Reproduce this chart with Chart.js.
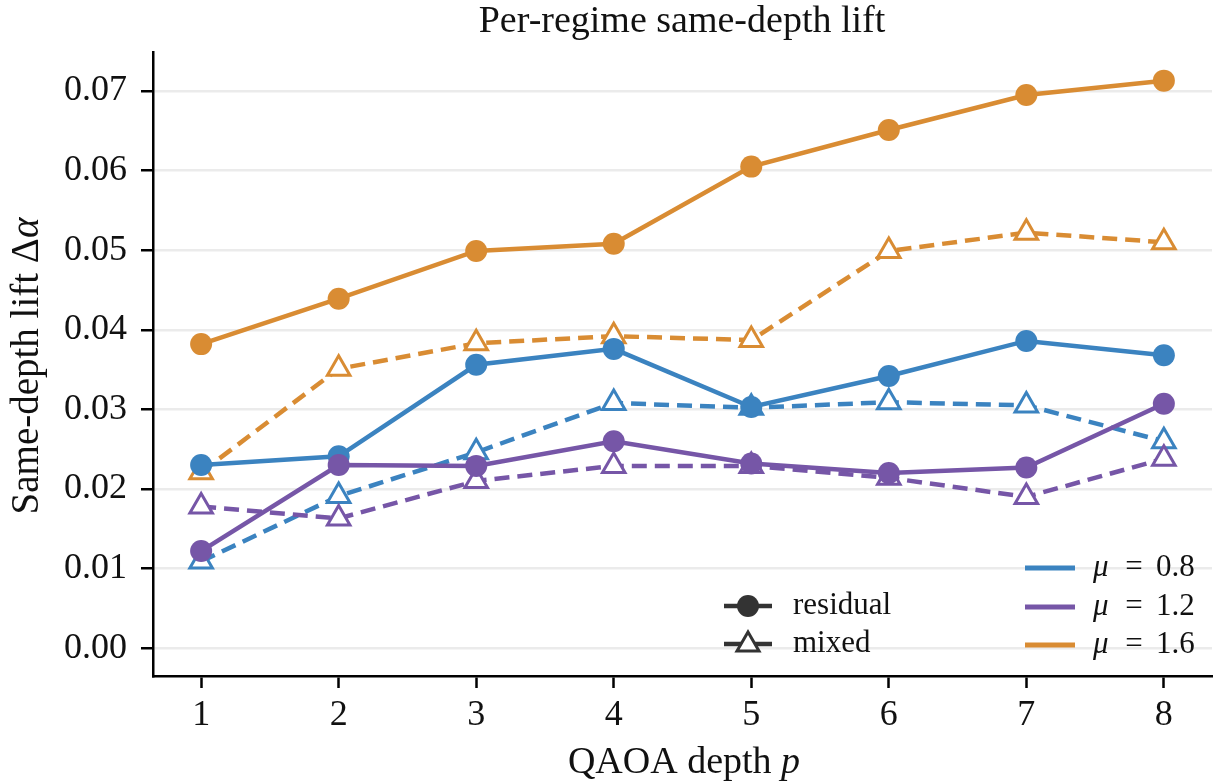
<!DOCTYPE html>
<html>
<head>
<meta charset="utf-8">
<script src="https://cdn.jsdelivr.net/npm/chart.js@4.4.0/dist/chart.umd.min.js"></script>
<style>
  html, body { margin: 0; padding: 0; background: #fff; overflow: hidden; }
  #wrap { width: 1219px; height: 782px; position: relative; overflow: hidden; }
  #chart { display: block; }
</style>
</head>
<body>
<div id="wrap"><canvas id="chart" width="1219" height="782"></canvas></div>
<script>
// Data
const depths = [1, 2, 3, 4, 5, 6, 7, 8];
const yTicks = [0, 0.01, 0.02, 0.03, 0.04, 0.05, 0.06, 0.07];

const residual08 = [0.0230, 0.0241, 0.0356, 0.0376, 0.0303, 0.0342, 0.0386, 0.0368];
const mixed08    = [0.0109, 0.0191, 0.0246, 0.0308, 0.0302, 0.0309, 0.0305, 0.0260];
const residual12 = [0.0122, 0.0230, 0.0229, 0.0260, 0.0232, 0.0220, 0.0227, 0.0307];
const mixed12    = [0.0178, 0.0163, 0.0210, 0.0229, 0.0229, 0.0214, 0.0190, 0.0238];
const residual16 = [0.0382, 0.0439, 0.0499, 0.0508, 0.0605, 0.0651, 0.0695, 0.0713];
const mixed16    = [0.0221, 0.0351, 0.0383, 0.0392, 0.0387, 0.0499, 0.0522, 0.0510];

const regimes = ['0.8', '1.2', '1.6'];
const colors = ['#3b83c0', '#7656a7', '#d98c33'];

const FONT = '"Liberation Serif", "DejaVu Serif", serif';

function pts(arr) {
    return arr.map((v, i) => ({ x: depths[i], y: v }));
}

function residualSet(vals, color) {
    return {
        data: pts(vals),
        borderColor: color,
        backgroundColor: color,
        borderWidth: 4.5,
        pointStyle: 'circle',
        pointRadius: 11,
        pointBorderWidth: 0,
        pointBackgroundColor: color,
        tension: 0,
    };
}

function mixedSet(vals, color) {
    return {
        data: pts(vals),
        borderColor: color,
        backgroundColor: '#fff',
        borderWidth: 4.5,
        borderDash: [15, 8],
        pointStyle: 'triangle',
        pointRadius: 13,
        pointBorderWidth: 3,
        pointBorderColor: color,
        pointBackgroundColor: '#fff',
        tension: 0,
    };
}

// first dataset is drawn on top: residual lines above mixed, later regimes above earlier
const datasets = [
    residualSet(residual16, colors[2]),
    residualSet(residual12, colors[1]),
    residualSet(residual08, colors[0]),
    mixedSet(mixed16, colors[2]),
    mixedSet(mixed12, colors[1]),
    mixedSet(mixed08, colors[0]),
];

// title, axis labels and both legends drawn by hand
const decorations = {
    id: 'decorations',
    afterDraw(chart) {
        const ctx = chart.ctx;
        ctx.save();
        ctx.fillStyle = '#111';
        ctx.textBaseline = 'middle';

        // title
        ctx.font = '38px ' + FONT;
        ctx.textAlign = 'center';
        ctx.fillText('Per-regime same-depth lift', 682, 22);

        // x label with italic p
        ctx.textAlign = 'left';
        ctx.font = '38px ' + FONT;
        const xl1 = 'QAOA depth ';
        const w1 = ctx.measureText(xl1).width;
        ctx.font = 'italic 38px ' + FONT;
        const w2 = ctx.measureText('p').width;
        const sx = 684 - (w1 + w2) / 2;
        ctx.font = '38px ' + FONT;
        ctx.fillText(xl1, sx, 763);
        ctx.font = 'italic 38px ' + FONT;
        ctx.fillText('p', sx + w1, 763);

        // y label rotated
        ctx.save();
        ctx.translate(28, 366);
        ctx.rotate(-Math.PI / 2);
        ctx.font = '39px ' + FONT;
        const yl1 = 'Same-depth lift \u0394';
        const yw1 = ctx.measureText(yl1).width;
        ctx.font = 'italic 39px ' + FONT;
        const yw2 = ctx.measureText('\u03b1').width;
        const sy = -(yw1 + yw2) / 2;
        ctx.font = '39px ' + FONT;
        ctx.fillText(yl1, sy, 0);
        ctx.font = 'italic 39px ' + FONT;
        ctx.fillText('\u03b1', sy + yw1, 0);
        ctx.restore();

        // marker legend
        const mk = [['residual', 606], ['mixed', 644]];
        mk.forEach(([label, y], i) => {
            ctx.strokeStyle = '#333';
            ctx.lineWidth = 4.5;
            ctx.setLineDash([]);
            ctx.beginPath();
            ctx.moveTo(724, y);
            ctx.lineTo(772, y);
            ctx.stroke();
            if (i === 0) {
                ctx.fillStyle = '#333';
                ctx.beginPath();
                ctx.arc(748, y, 11, 0, Math.PI * 2);
                ctx.fill();
            } else {
                ctx.fillStyle = '#fff';
                ctx.lineWidth = 3;
                ctx.beginPath();
                ctx.moveTo(748, y - 12);
                ctx.lineTo(759, y + 7);
                ctx.lineTo(737, y + 7);
                ctx.closePath();
                ctx.fill();
                ctx.stroke();
            }
            ctx.fillStyle = '#111';
            ctx.font = '31px ' + FONT;
            ctx.textAlign = 'left';
            ctx.fillText(label, 793, y);
        });

        // regime legend
        const ry = [568, 607, 645];
        regimes.forEach((label, i) => {
            ctx.strokeStyle = colors[i];
            ctx.lineWidth = 5;
            ctx.beginPath();
            ctx.moveTo(1025, ry[i]);
            ctx.lineTo(1075, ry[i]);
            ctx.stroke();
            ctx.fillStyle = '#111';
            ctx.textAlign = 'left';
            ctx.font = 'italic 31px ' + FONT;
            ctx.fillText('\u03bc', 1093, ry[i]);
            ctx.font = '31px ' + FONT;
            ctx.textAlign = 'center';
            ctx.fillText('=', 1134, ry[i]);
            ctx.textAlign = 'left';
            ctx.fillText(label, 1156, ry[i]);
        });
        ctx.restore();
    }
};

new Chart(document.getElementById('chart'), {
    type: 'line',
    data: { datasets },
    options: {
        responsive: false,
        animation: false,
        layout: { autoPadding: false, padding: { top: 52, right: 7, left: 0, bottom: 0 } },
        plugins: {
            legend: { display: false },
            title: { display: false },
            tooltip: { enabled: false },
        },
        scales: {
            x: {
                type: 'linear',
                min: 0.65,
                max: 8.35,
                afterBuildTicks: (axis) => { axis.ticks = depths.map(v => ({ value: v })); },
                afterFit: (axis) => {
                    axis.height = 106;
                    axis.paddingLeft = 0;
                    axis.paddingRight = 0;
                },
                grid: { drawOnChartArea: false, drawTicks: true, tickLength: 12, tickColor: '#000', tickWidth: 2.5 },
                border: { display: true, color: '#000', width: 2.5 },
                ticks: { color: '#111', font: { family: FONT, size: 36 }, padding: 6, callback: v => String(v) },
            },
            y: {
                type: 'linear',
                min: -0.0035,
                max: 0.0749,
                afterBuildTicks: (axis) => { axis.ticks = yTicks.map(v => ({ value: v })); },
                afterFit: (axis) => {
                    axis.width = 153;
                    axis.paddingTop = 0;
                    axis.paddingBottom = 0;
                },
                grid: { color: '#ebebeb', lineWidth: 2.5, drawTicks: true, tickLength: 12, tickColor: '#000', tickWidth: 2.5 },
                border: { display: true, color: '#000', width: 2.5 },
                ticks: { color: '#111', font: { family: FONT, size: 36 }, padding: 14, callback: v => v.toFixed(2) },
            },
        },
    },
    plugins: [decorations],
});
</script>
</body>
</html>
